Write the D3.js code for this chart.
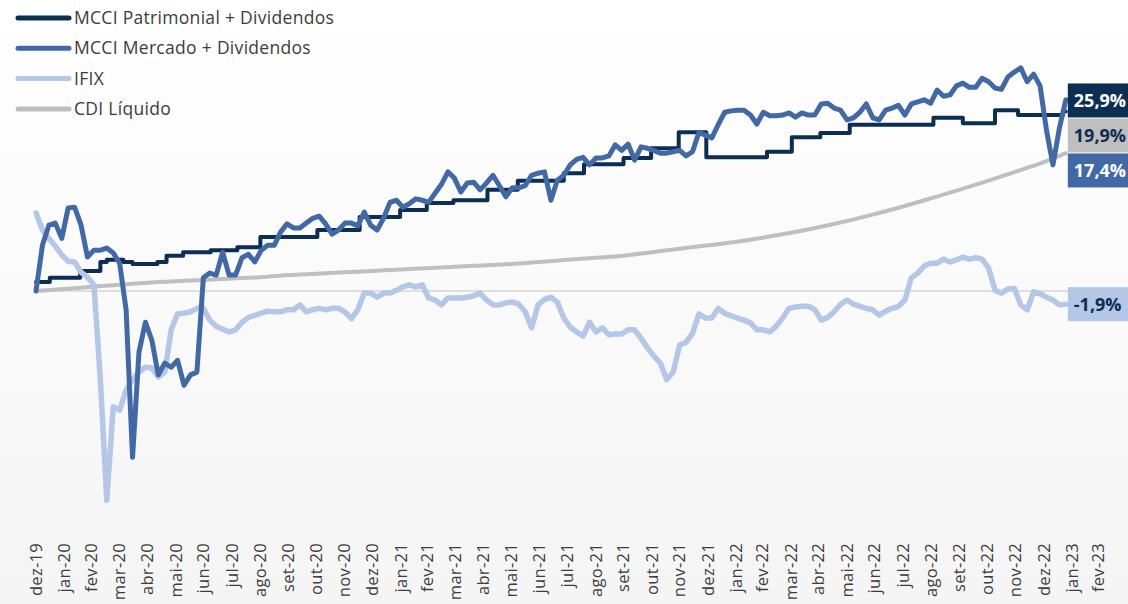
<!DOCTYPE html>
<html>
<head>
<meta charset="utf-8">
<script src="https://cdn.jsdelivr.net/npm/d3@7"></script>
<style>
  html, body { margin: 0; padding: 0; background: #fff; }
  svg { display: block; font-family: "Open Sans", "DejaVu Sans", sans-serif; }
</style>
</head>
<body>
<svg id="chart" width="1128" height="604"></svg>
<script>
"use strict";

// month labels on the x axis (each tick = month end)
let monthLabels = ["dez-19","jan-20","fev-20","mar-20","abr-20","mai-20","jun-20","jul-20","ago-20","set-20",
  "out-20","nov-20","dez-20","jan-21","fev-21","mar-21","abr-21","mai-21","jun-21","jul-21",
  "ago-21","set-21","out-21","nov-21","dez-21","jan-22","fev-22","mar-22","abr-22","mai-22",
  "jun-22","jul-22","ago-22","set-22","out-22","nov-22","dez-22","jan-23","fev-23"]

// weekly readings (%), first one on 31/12/2019
let weekStart = new Date(2019, 11, 31)
let mercado = [0.0, 6.6, 9.5, 9.8, 7.6, 12.0, 12.1, 9.5, 4.9, 5.9,
  5.9, 6.2, 5.5, 4.0, -2.7, -24.0, -8.8, -4.5, -7.1, -12.1,
  -10.4, -11.0, -10.0, -13.6, -12.1, -11.7, 1.9, 2.6, 2.3, 5.6,
  2.3, 2.3, 4.8, 5.3, 4.2, 5.9, 6.6, 6.6, 8.5, 9.7,
  9.1, 9.1, 9.8, 10.5, 10.8, 9.7, 8.2, 8.8, 9.8, 9.8,
  9.4, 11.4, 9.5, 8.8, 10.5, 12.8, 13.1, 12.1, 12.6, 13.3,
  13.1, 12.8, 14.1, 15.4, 17.2, 16.3, 14.3, 15.6, 15.7, 14.6,
  15.6, 16.7, 15.2, 13.6, 14.9, 14.9, 15.2, 16.7, 17.0, 17.2,
  13.1, 16.0, 16.7, 18.2, 19.0, 19.3, 18.2, 19.2, 19.2, 19.5,
  21.1, 20.3, 21.2, 18.9, 20.8, 20.6, 20.3, 19.9, 19.9, 20.1,
  20.3, 19.5, 20.1, 22.9, 22.5, 22.1, 24.0, 25.8, 26.0, 26.1,
  26.1, 25.4, 24.1, 25.8, 25.3, 25.3, 25.4, 25.7, 25.1, 25.7,
  25.4, 25.4, 27.0, 27.1, 26.4, 26.1, 24.7, 25.0, 25.8, 27.0,
  25.0, 24.7, 26.1, 26.4, 26.8, 25.4, 27.0, 27.3, 27.6, 27.1,
  29.0, 28.1, 28.3, 29.6, 30.0, 29.4, 29.4, 30.7, 30.2, 29.3,
  29.1, 30.9, 31.6, 32.2, 30.2, 31.3, 29.6, 23.2, 18.2, 23.5,
  27.6]
let ifix = [11.3, 8.8, 7.6, 6.5, 5.2, 4.3, 4.2, 2.7, 2.0, 0.9,
  -12.8, -30.2, -16.7, -17.2, -14.3, -12.8, -11.7, -11.0, -11.1, -12.4,
  -11.7, -5.6, -3.3, -3.2, -3.0, -2.5, -2.5, -4.2, -5.1, -5.5,
  -5.9, -5.6, -4.5, -3.8, -3.5, -3.2, -2.9, -3.0, -3.0, -2.7,
  -2.7, -2.0, -3.0, -2.7, -2.5, -2.7, -2.5, -2.5, -3.0, -4.0,
  -2.7, -0.3, -0.3, -0.9, -0.3, -0.3, 0.1, 0.6, 0.9, 0.6,
  0.9, -1.0, -1.3, -2.0, -1.0, -1.0, -1.0, -0.9, -0.7, -0.3,
  -1.3, -2.0, -2.0, -1.7, -1.6, -1.9, -3.0, -5.3, -2.0, -1.2,
  -0.9, -1.6, -3.9, -5.2, -5.9, -6.5, -4.5, -5.9, -5.3, -6.3,
  -6.2, -6.2, -5.6, -5.6, -6.8, -8.2, -9.4, -10.4, -12.8, -11.7,
  -7.8, -7.4, -6.1, -3.3, -3.9, -3.9, -2.5, -3.2, -3.6, -3.9,
  -4.2, -4.6, -5.6, -5.6, -5.9, -5.1, -3.9, -2.5, -2.3, -2.2,
  -2.2, -2.7, -4.2, -3.8, -3.0, -1.9, -1.3, -1.9, -2.2, -2.5,
  -2.7, -3.5, -2.9, -2.5, -2.2, -1.3, 1.9, 2.6, 3.6, 4.0,
  4.0, 4.6, 4.2, 4.5, 4.9, 4.6, 4.8, 4.6, 3.3, 0.1,
  -0.3, 0.3, 0.4, -2.0, -2.7, -0.1, -0.4, -0.9, -1.3, -2.0,
  -1.9]

// patrimonial moves in steps: [date, %]
let patrimonial = [["2019-12-31",1.3],["2020-01-15",1.9],["2020-02-17",2.9],["2020-03-10",4.2],
  ["2020-03-17",4.5],["2020-04-04",4.2],["2020-04-14",3.9],["2020-05-11",4.2],["2020-05-21",5.1],
  ["2020-06-08",5.6],["2020-07-08",5.9],["2020-08-06",6.3],["2020-08-31",7.8],["2020-11-01",8.8],
  ["2020-12-17",10.7],["2021-01-30",11.7],["2021-02-28",12.7],["2021-03-29",13.1],["2021-05-05",14.6],
  ["2021-06-07",15.9],["2021-07-27",17.0],["2021-08-18",18.3],["2021-09-30",19.2],["2021-10-30",20.6],
  ["2021-11-29",22.9],["2021-12-29",19.3],["2022-03-05",20.1],["2022-04-01",22.2],["2022-05-02",22.8],
  ["2022-06-03",24.0],["2022-09-02",25.0],["2022-10-04",24.2],["2022-11-08",26.1],["2022-12-03",25.4],
  ["2023-01-21",25.9],["2023-01-24",25.9]]

// CDI líquido at each month end, last value on 24/01/2023
let cdi = [0, 0.3, 0.6, 0.9, 1.2, 1.4, 1.6, 1.8, 2.0, 2.3, 2.5, 2.7, 2.9, 3.1, 3.3, 3.5, 3.7, 3.9, 4.2,
  4.5, 4.8, 5.1, 5.6, 6.1, 6.6, 7.1, 7.7, 8.4, 9.2, 10.1, 11.1, 12.2, 13.4, 14.6, 15.9, 17.2, 18.6, 19.9]

// final values shown in the boxes on the right
let endValues = {patrimonial: 25.9, cdi: 19.9, mercado: 17.4, ifix: -1.9}

let names = {
  patrimonial: "MCCI Patrimonial + Dividendos",
  mercado: "MCCI Mercado + Dividendos",
  ifix: "IFIX",
  cdi: "CDI Líquido"
}

let colors = {patrimonial: "#0b2e52", mercado: "#4268a6", ifix: "#b4c7e7", cdi: "#bfbfbf"}
let widths = {patrimonial: 4, mercado: 5, ifix: 5.5, cdi: 4}
let boxText = {patrimonial: "#fff", mercado: "#fff", ifix: "#0b2e52", cdi: "#0b2e52"}

let parse = d3.timeParse("%Y-%m-%d")
let fmt = d3.format(".1f")
let pct = v => fmt(v).replace("−", "-").replace(".", ",") + "%"

let svg = d3.select("#chart")

// soft background
let grad = svg.append("defs").append("linearGradient")
    .attr("id","bg").attr("x1",0).attr("y1",0).attr("x2",0).attr("y2",1)
grad.append("stop").attr("offset","0%").attr("stop-color","#ffffff")
grad.append("stop").attr("offset","100%").attr("stop-color","#f5f5f6")
svg.append("rect").attr("width",1128).attr("height",604).attr("fill","url(#bg)")

let x = d3.scaleTime()
    .domain([new Date(2019, 11, 31), new Date(2023, 1, 28)])
    .range([36, 1098])
let y = d3.scaleLinear().domain([-30, 35]).range([498.9, 48.5])

let weekDates = mercado.map((v, i) => d3.timeDay.offset(weekStart, 7 * i))
let lastDate = weekDates[weekDates.length - 1]
let monthEnds = monthLabels.map((m, i) => new Date(2019, 12 + i, 0))
let cdiDates = monthEnds.slice(0, cdi.length - 1).concat([lastDate])

let series = {
  cdi: cdi.map((v, i) => [cdiDates[i], v]),
  patrimonial: patrimonial.map(d => [parse(d[0]), d[1]]),
  ifix: ifix.map((v, i) => [weekDates[i], v]),
  mercado: mercado.map((v, i) => [weekDates[i], v])
}

// zero line
svg.append("line")
    .attr("x1", x(weekStart) - 1).attr("x2", 1128)
    .attr("y1", y(0)).attr("y2", y(0))
    .attr("stroke","#d6d6d6").attr("stroke-width",1.5)

let curves = {
  cdi: d3.curveMonotoneX,
  patrimonial: d3.curveStepAfter,
  ifix: d3.curveLinear,
  mercado: d3.curveLinear
}

for (let key of ["cdi","patrimonial","ifix","mercado"]) {
  let line = d3.line().x(d => x(d[0])).y(d => y(d[1])).curve(curves[key])
  svg.append("path")
      .datum(series[key])
      .attr("d", line)
      .attr("fill","none")
      .attr("stroke", colors[key])
      .attr("stroke-width", widths[key])
      .attr("stroke-linejoin","round")
      .attr("stroke-linecap","round")
}

// x axis labels, rotated
let xAxis = svg.append("g")
xAxis.selectAll("text")
    .data(monthLabels)
  .enter().append("text")
    .attr("transform", (d, i) => "translate(" + x(monthEnds[i]) + ",543) rotate(-90)")
    .attr("dy","0.35em")
    .attr("text-anchor","end")
    .attr("font-size","16.5px")
    .attr("letter-spacing","0.3px")
    .attr("fill","#3c3c3c")
    .text(d => d)

// end value boxes, stacked so they do not overlap
let boxH = 34
let boxes = Object.keys(endValues)
    .map(k => ({key: k, value: endValues[k], cy: y(endValues[k])}))
    .sort((a, b) => a.value - b.value)
for (let i = 1; i < boxes.length; i++) {
  let below = boxes[i - 1]
  if (boxes[i].cy > below.cy - boxH - 1) boxes[i].cy = below.cy - boxH - 1
}
let boxG = svg.append("g")
let bx = x(lastDate) + 2
let box = boxG.selectAll("g").data(boxes).enter().append("g")
    .attr("transform", d => "translate(" + bx + "," + (d.cy - boxH / 2) + ")")
box.append("rect")
    .attr("width", 1128 - bx + 2).attr("height", boxH)
    .attr("fill", d => colors[d.key])
box.append("text")
    .attr("x", 6).attr("y", boxH / 2).attr("dy","0.36em")
    .attr("font-size","18px").attr("font-weight","bold")
    .attr("fill", d => boxText[d.key])
    .text(d => pct(d.value))

// legend
let legend = svg.append("g")
let legendKeys = ["patrimonial","mercado","ifix","cdi"]
let item = legend.selectAll("g").data(legendKeys).enter().append("g")
    .attr("transform", (d, i) => "translate(0," + (18 + i * 30.3) + ")")
item.append("line")
    .attr("x1",18).attr("x2",69)
    .attr("stroke", d => colors[d]).attr("stroke-width",5).attr("stroke-linecap","round")
item.append("text")
    .attr("x",74).attr("dy","0.35em")
    .attr("font-size","17.5px").attr("letter-spacing","0.3px").attr("fill","#3c3c3c")
    .text(d => names[d])
</script>
</body>
</html>
